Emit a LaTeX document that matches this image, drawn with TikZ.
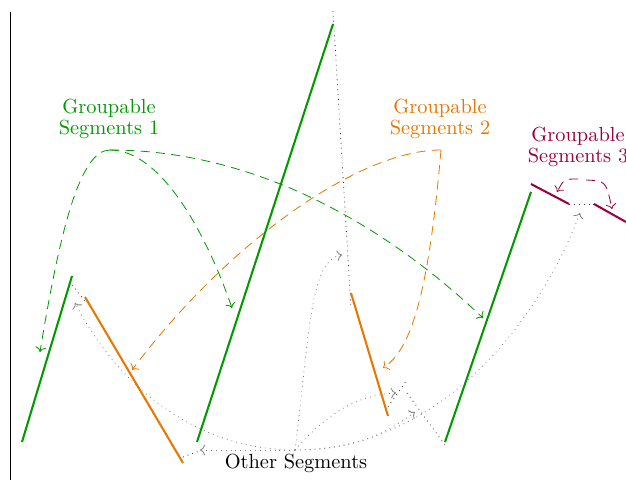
\documentclass[tikz,border=0pt]{standalone}
\usetikzlibrary{arrows.meta}
\definecolor{cgreen}{RGB}{0,153,0}
\definecolor{corange}{RGB}{232,118,0}
\definecolor{cpurple}{RGB}{153,0,61}
\tikzset{
  seg/.style={line width=1pt},
  gap/.style={dotted, black!80, line width=0.4pt},
  grp/.style={->, dash pattern=on 4.5pt off 3pt, line width=0.4pt},
  oth/.style={->, dotted, black!50, line width=0.4pt},
  lbl/.style={align=center, inner sep=0pt, font=\fontsize{10pt}{10pt}\selectfont},
}
\begin{document}
\begin{tikzpicture}[x=0.49pt,y=-0.49pt]
\useasboundingbox (0,0) rectangle (626,480);
% axis
\coordinate (ax1) at (10,12);
\coordinate (ax2) at (10,480);
\draw[line width=0.45pt] (ax1) -- (ax2);
% segment end points
\coordinate (a1) at (22,442);  \coordinate (a2) at (72,276);
\coordinate (b1) at (85,297);  \coordinate (b2) at (183,463);
\coordinate (c1) at (197,442); \coordinate (c2) at (333,24);
\coordinate (d1) at (351,293); \coordinate (d2) at (388,416);
\coordinate (e1) at (445,442); \coordinate (e2) at (531,192);
\coordinate (f1) at (531,184); \coordinate (f2) at (569,204);
\coordinate (h1) at (594,204); \coordinate (h2) at (626,222);
% segments
\draw[seg, cgreen] (a1) -- (a2);
\draw[seg, corange] (b1) -- (b2);
\draw[seg, cgreen] (c1) -- (c2);
\draw[seg, corange] (d1) -- (d2);
\draw[seg, cgreen] (e1) -- (e2);
\draw[seg, cpurple] (f1) -- (f2);
\draw[seg, cpurple] (h1) -- (h2);
% gap connectors
\coordinate (p1) at (72,285);  \coordinate (p2) at (85,301);
\coordinate (q1) at (183,457); \coordinate (q2) at (200,451);
\coordinate (r1) at (333,11);  \coordinate (r2) at (351,308);
\coordinate (s1) at (388,407); \coordinate (s2) at (407,380);
\coordinate (t1) at (407,393); \coordinate (t2) at (445,445);
\draw[gap] (p1) -- (p2);
\draw[gap] (q1) -- (q2);
\draw[gap] (r1) -- (r2);
\draw[gap] (s1) -- (s2);
\draw[gap] (t1) -- (t2);
\draw[gap] (f2) -- (h1);
% labels
\node[lbl, text=cgreen] (g1) at (109,119) {Groupable\\Segments 1};
\node[lbl, text=corange] (g2) at (440,119) {Groupable\\Segments 2};
\node[lbl, text=cpurple] (g3) at (578,147) {Groupable\\Segments 3};
\node[inner sep=0pt] (os) at (296,463) {Other Segments};
% arrow origins and targets
\coordinate (g1o) at (110,150);
\coordinate (g2o) at (441,150);
\coordinate (g3l) at (578,179);
\coordinate (g3r) at (586,180);
\coordinate (oo) at (295,450);
\coordinate (ta) at (40,352);
\coordinate (tb) at (232,308);
\coordinate (tc) at (483,318);
\coordinate (td) at (132,370);
\coordinate (te) at (383,368);
\coordinate (tf) at (557,192);
\coordinate (tg) at (612,209);
\coordinate (u1) at (200,450);
\coordinate (u2) at (75,303);
\coordinate (u3) at (342,255);
\coordinate (u4) at (396,393);
\coordinate (u5) at (415,412);
\coordinate (u6) at (580,213);
% green dashed
\draw[grp, cgreen] (g1o) .. controls (80,150) and (60,230) .. (ta);
\draw[grp, cgreen] (g1o) .. controls (160,150) and (205,230) .. (tb);
\draw[grp, cgreen] (g1o) .. controls (250,150) and (380,220) .. (tc);
% orange dashed
\draw[grp, corange] (g2o) .. controls (360,150) and (230,240) .. (td);
\draw[grp, corange] (g2o) .. controls (428,300) and (410,350) .. (te);
% purple dashed
\draw[grp, cpurple] (g3l) .. controls (564,179) .. (tf);
\draw[grp, cpurple] (g3r) .. controls (606,181) .. (tg);
% other segments dotted
\draw[oth] (oo) -- (u1);
\draw[oth] (oo) .. controls (200,450) and (120,390) .. (u2);
\draw[oth] (oo) .. controls (310,330) and (310,260) .. (u3);
\draw[oth] (oo) .. controls (330,410) and (360,395) .. (u4);
\draw[oth] (oo) .. controls (360,450) and (390,430) .. (u5);
\draw[oth] (oo) .. controls (440,450) and (540,320) .. (u6);
\end{tikzpicture}
\end{document}
